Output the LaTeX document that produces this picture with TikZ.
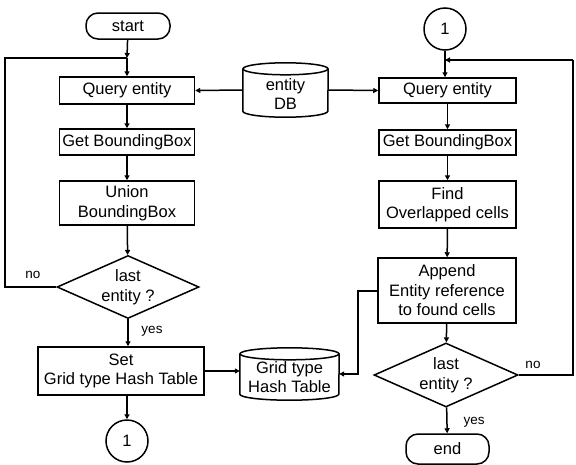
\documentclass[tikz,border=0pt]{standalone}
\usepackage{fontspec}
\setmainfont{Liberation Sans}
\usetikzlibrary{arrows.meta,shapes.geometric,calc}
\begin{document}
\begin{tikzpicture}[x=1pt,y=-1pt,
  every node/.style={font=\fontsize{16.5}{19.5}\selectfont, align=center, inner sep=0pt},
  box/.style={draw, line width=1.5pt, rectangle},
  term/.style={draw, line width=1.5pt, rounded corners=12pt},
  dec/.style={draw, line width=1.5pt, diamond, aspect=2.25},
  conn/.style={draw, line width=1.5pt, circle, minimum size=42pt},
  store/.style={rectangle},
  lbl/.style={font=\fontsize{13.5}{15}\selectfont},
  flow/.style={line width=1.5pt, -{Triangle[length=5pt,width=5pt]}},
  line/.style={line width=1.5pt}
]
\useasboundingbox (0,0) rectangle (576,464);
\fill[white] (0,0) rectangle (576,464);

% left column
\node[term, minimum width=84pt, minimum height=26pt] (start) at (128,26) {start};
\node[box, minimum width=135pt, minimum height=27pt] (q1) at (127,90.5) {Query entity};
\node[box, minimum width=135pt, minimum height=26pt] (g1) at (127,142) {Get BoundingBox};
\node[box, minimum width=135pt, minimum height=44pt] (u1) at (127,203) {Union\\BoundingBox};
\node[dec, minimum width=142pt, minimum height=63pt] (d1) at (128,287) {last\\entity ?};
\node[box, minimum width=166pt, minimum height=48pt] (s1) at (121,371) {Set\\Grid type Hash Table};
\node[conn] (c1) at (127,441) {1};
\coordinate (j1) at (127,58);
\coordinate (l1) at (5,58);
\coordinate (l2) at (5,287);

% stores
\node[store, minimum width=85pt, minimum height=54pt] (db) at (285.5,90) {};
\node[store, minimum width=99pt, minimum height=52pt] (ht) at (289.5,374) {};
\foreach \n/\rx in {db/42.5, ht/49.5}{
  \draw[line] ([yshift=-6pt]\n.north) ellipse ({\rx pt} and 6pt);
  \draw[line] ([yshift=-6pt]\n.north west) -- ([yshift=6pt]\n.south west)
     arc (180:360:{\rx pt} and 6pt) -- ([yshift=-6pt]\n.north east);
}
\node (dbt) at (285.5,94) {entity\\DB};
\node (htt) at (289.5,377) {Grid type\\Hash Table};

% right column
\node[conn] (c2) at (445,29) {1};
\node[box, minimum width=137pt, minimum height=25pt] (q2) at (447.5,90.5) {Query entity};
\node[box, minimum width=137pt, minimum height=25pt] (g2) at (447.5,142.5) {Get BoundingBox};
\node[box, minimum width=137pt, minimum height=47pt] (f2) at (447.5,204.5) {Find\\Overlapped cells};
\node[box, minimum width=138pt, minimum height=65pt] (a2) at (447,290.5) {Append\\Entity reference\\to found cells};
\node[dec, minimum width=144pt, minimum height=64pt] (d2) at (446,375) {last\\entity ?};
\node[term, minimum width=83pt, minimum height=30pt] (end) at (447.5,449) {end};
\coordinate (j2) at (445,60);
\coordinate (r1) at (573,60);
\coordinate (r2) at (573,375);
\coordinate (k1) at (358,291);
\coordinate (k2) at (358,374);

% left connectors
\draw[flow] (start) -- (j1);
\draw[flow] (j1) -- (q1);
\draw[line] (d1.west) -- (l2) -- (l1) -- (j1);
\draw[flow] (q1) -- (g1);
\draw[flow] (g1) -- (u1);
\draw[flow] (u1) -- (d1);
\draw[flow] (d1.south) -- (d1.south |- s1.north);
\draw[flow] (s1.south -| c1) -- (c1);
\draw[flow] (db.west) -- (q1.east);
\draw[flow] (s1.east) -- (s1.east -| ht.west);
\node[lbl] at (33,275) {no};
\node[lbl] at (152,331) {yes};

% right connectors
\draw[line] (c2) -- (j2);
\draw[flow] (r1) -- (j2);
\draw[flow] (j2) -- (q2.north -| j2);
\draw[line] (d2.east) -- (r2) -- (r1);
\draw[flow] (db.east) -- (q2.west);
\draw[flow] (q2) -- (g2);
\draw[flow] (g2) -- (f2);
\draw[flow] (f2) -- (a2);
\draw[flow] (a2) -- (d2);
\draw[flow] (d2) -- (end);
\draw[flow] (a2.west |- k1) -- (k1) -- (k2) -- (ht.east |- k2);
\node[lbl] at (533,365) {no};
\node[lbl] at (474,422) {yes};
\end{tikzpicture}
\end{document}
